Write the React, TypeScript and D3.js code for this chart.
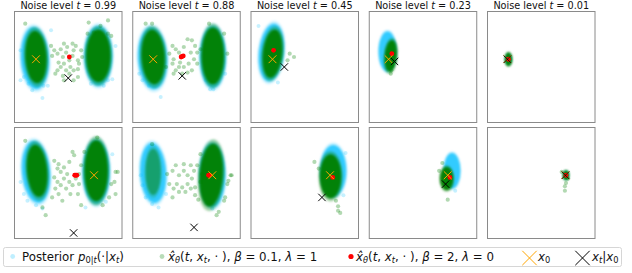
// @ts-nocheck
import * as d3 from 'd3';
import { useEffect, useRef } from 'react';

const noiseLevels = [0.99, 0.88, 0.45, 0.23, 0.01];

// Everything below is in frame units: x and y run 0..1 across a panel, y downwards.
// Panel index = row * 5 + column.

// dense part of the posterior samples: [panel, cx, cy, rx, ry, rotation]
const posteriorClouds = [
  [0, 0.19, 0.42, 0.135, 0.29, -3],
  [0, 0.78, 0.4, 0.135, 0.28, 0],
  [1, 0.185, 0.42, 0.14, 0.29, -3],
  [1, 0.745, 0.41, 0.125, 0.29, 0],
  [2, 0.19, 0.37, 0.12, 0.27, 6],
  [3, 0.17, 0.36, 0.085, 0.185, 0],
  [4, 0.195, 0.43, 0.03, 0.05, 0],
  [5, 0.2, 0.4, 0.135, 0.29, -5],
  [5, 0.76, 0.4, 0.13, 0.3, 0],
  [6, 0.19, 0.41, 0.125, 0.28, -3],
  [6, 0.74, 0.43, 0.125, 0.3, 0],
  [7, 0.765, 0.39, 0.125, 0.24, 0],
  [8, 0.77, 0.39, 0.08, 0.165, 0],
  [9, 0.73, 0.43, 0.025, 0.04, 0],
];

// dense part of the beta = 0.1 samples: [panel, cx, cy, rx, ry, rotation, density]
const betaClouds = [
  [0, 0.2, 0.41, 0.105, 0.25, -3, 1],
  [0, 0.78, 0.4, 0.12, 0.25, 0, 1],
  [1, 0.19, 0.41, 0.115, 0.26, -3, 1],
  [1, 0.745, 0.4, 0.11, 0.27, 0, 1],
  [2, 0.2, 0.38, 0.095, 0.23, 6, 1],
  [3, 0.2, 0.4, 0.06, 0.15, 5, 1],
  [4, 0.195, 0.43, 0.035, 0.065, 0, 1],
  [5, 0.21, 0.39, 0.1, 0.25, -5, 1],
  [5, 0.76, 0.39, 0.115, 0.29, 0, 1],
  [6, 0.19, 0.4, 0.075, 0.22, 0, 0.5],
  [6, 0.73, 0.43, 0.115, 0.3, 4, 1],
  [7, 0.74, 0.44, 0.105, 0.21, 0, 1],
  [8, 0.72, 0.46, 0.065, 0.11, 0, 1],
  [9, 0.73, 0.43, 0.03, 0.045, 0, 1],
];

// loose beta = 0.1 samples (between the modes and outliers): [panel, x, y]
const betaScatter = [
  [0, 0.34, 0.31], [0, 0.37, 0.35], [0, 0.35, 0.4], [0, 0.4, 0.38], [0, 0.43, 0.34], [0, 0.45, 0.41],
  [0, 0.48, 0.37], [0, 0.41, 0.46], [0, 0.46, 0.47], [0, 0.51, 0.44], [0, 0.54, 0.4], [0, 0.55, 0.35],
  [0, 0.57, 0.31], [0, 0.59, 0.44], [0, 0.6, 0.47], [0, 0.52, 0.5], [0, 0.48, 0.53], [0, 0.43, 0.5],
  [0, 0.38, 0.56], [0, 0.4, 0.53], [0, 0.55, 0.53], [0, 0.59, 0.52], [0, 0.62, 0.35], [0, 0.63, 0.41],
  [0, 0.54, 0.29], [0, 0.49, 0.32], [0, 0.46, 0.29], [0, 0.51, 0.56], [0, 0.45, 0.58], [0, 0.55, 0.62],
  [0, 0.59, 0.59], [0, 0.46, 0.62], [0, 0.68, 0.2], [0, 0.74, 0.19], [0, 0.87, 0.2], [0, 0.9, 0.22],
  [0, 0.1, 0.11], [0, 0.69, 0.1], [0, 0.87, 0.08], [0, 0.8, 0.13],
  [1, 0.37, 0.31], [1, 0.4, 0.34], [1, 0.34, 0.38], [1, 0.38, 0.43], [1, 0.43, 0.37], [1, 0.44, 0.46],
  [1, 0.475, 0.32], [1, 0.51, 0.25], [1, 0.55, 0.26], [1, 0.58, 0.31], [1, 0.54, 0.37], [1, 0.57, 0.43],
  [1, 0.52, 0.47], [1, 0.475, 0.5], [1, 0.43, 0.5], [1, 0.4, 0.53], [1, 0.37, 0.47], [1, 0.6, 0.37],
  [1, 0.6, 0.47], [1, 0.55, 0.53], [1, 0.51, 0.55], [1, 0.46, 0.56], [1, 0.38, 0.56], [1, 0.31, 0.5],
  [1, 0.63, 0.34], [1, 0.12, 0.11], [1, 0.18, 0.11], [1, 0.71, 0.11], [1, 0.85, 0.2], [1, 0.88, 0.38],
  [2, 0.36, 0.38], [2, 0.4, 0.41], [2, 0.34, 0.44],
  [3, 0.21, 0.49], [3, 0.205, 0.53], [3, 0.2, 0.56],
  [5, 0.37, 0.3], [5, 0.41, 0.33], [5, 0.46, 0.36], [5, 0.51, 0.31], [5, 0.54, 0.22], [5, 0.555, 0.25],
  [5, 0.4, 0.37], [5, 0.43, 0.4], [5, 0.49, 0.42], [5, 0.37, 0.45], [5, 0.4, 0.49], [5, 0.46, 0.46],
  [5, 0.51, 0.49], [5, 0.43, 0.52], [5, 0.48, 0.55], [5, 0.54, 0.52], [5, 0.57, 0.46], [5, 0.6, 0.42],
  [5, 0.62, 0.34], [5, 0.6, 0.51], [5, 0.52, 0.6], [5, 0.59, 0.6], [5, 0.62, 0.7], [5, 0.35, 0.63],
  [5, 0.41, 0.6], [5, 0.445, 0.66], [5, 0.38, 0.55], [5, 0.65, 0.22], [5, 0.96, 0.4], [5, 0.93, 0.49],
  [5, 0.9, 0.51], [5, 0.94, 0.6], [5, 0.88, 0.63], [5, 0.82, 0.7], [5, 0.1, 0.12], [5, 0.29, 0.79],
  [5, 0.26, 0.72], [5, 0.77, 0.09], [5, 0.94, 0.4],
  [6, 0.32, 0.42], [6, 0.37, 0.39], [6, 0.4, 0.34], [6, 0.43, 0.43], [6, 0.475, 0.39], [6, 0.51, 0.43],
  [6, 0.54, 0.34], [6, 0.57, 0.39], [6, 0.55, 0.46], [6, 0.51, 0.51], [6, 0.46, 0.54], [6, 0.41, 0.51],
  [6, 0.38, 0.55], [6, 0.43, 0.58], [6, 0.49, 0.58], [6, 0.54, 0.55], [6, 0.58, 0.54], [6, 0.6, 0.34],
  [6, 0.34, 0.51], [6, 0.63, 0.49], [6, 0.37, 0.63], [6, 0.475, 0.33], [6, 0.58, 0.61], [6, 0.645, 0.42],
  [6, 0.92, 0.43], [6, 0.89, 0.48], [6, 0.88, 0.51], [6, 0.86, 0.63], [6, 0.85, 0.66], [6, 0.63, 0.24],
  [6, 0.61, 0.65], [6, 0.18, 0.15], [6, 0.8, 0.76], [6, 0.78, 0.79], [6, 0.91, 0.43],
  [7, 0.59, 0.31], [7, 0.63, 0.37], [7, 0.81, 0.75], [7, 0.83, 0.77], [7, 0.81, 0.71], [7, 0.79, 0.66],
  [8, 0.73, 0.65], [8, 0.68, 0.32], [8, 0.65, 0.39],
  [9, 0.73, 0.5], [9, 0.72, 0.53], [9, 0.72, 0.57], [9, 0.69, 0.4], [9, 0.75, 0.46],
];

// loose posterior samples at the cloud edges: [panel, x, y]
const posteriorScatter = [
  [0, 0.056, 0.62], [0, 0.26, 0.78], [0, 0.31, 0.67], [0, 0.087, 0.59], [0, 0.165, 0.71], [0, 0.71, 0.65],
  [0, 0.87, 0.62], [0, 0.34, 0.17], [0, 0.056, 0.35], [0, 0.13, 0.65], [0, 0.27, 0.67], [0, 0.83, 0.67],
  [0, 0.91, 0.61], [0, 0.94, 0.31],
  [1, 0.06, 0.56], [1, 0.09, 0.62], [1, 0.15, 0.67], [1, 0.68, 0.62], [1, 0.75, 0.7], [1, 0.86, 0.56],
  [1, 0.26, 0.6], [1, 0.26, 0.77], [1, 0.72, 0.7],
  [2, 0.25, 0.64], [2, 0.07, 0.13],
  [5, 0.056, 0.49], [5, 0.087, 0.6], [5, 0.12, 0.66], [5, 0.2, 0.7], [5, 0.26, 0.73], [5, 0.66, 0.72],
  [5, 0.85, 0.67], [5, 0.91, 0.24],
  [6, 0.074, 0.43], [6, 0.09, 0.52], [6, 0.12, 0.63], [6, 0.18, 0.69], [6, 0.24, 0.72], [6, 0.31, 0.6],
  [6, 0.74, 0.73],
  [7, 0.86, 0.61], [7, 0.88, 0.23],
  [8, 0.8, 0.57],
];

// beta = 2, lambda = 0 samples (they collapse onto a point): [panel, x, y]
const redPoints = [
  [0, 0.51, 0.41], [1, 0.45, 0.41], [1, 0.46, 0.405], [1, 0.47, 0.4], [2, 0.21, 0.35], [3, 0.21, 0.38],
  [4, 0.195, 0.43], [5, 0.56, 0.43], [5, 0.57, 0.43], [5, 0.58, 0.43], [6, 0.705, 0.43], [6, 0.715, 0.43],
  [7, 0.76, 0.45], [8, 0.75, 0.45], [9, 0.73, 0.43],
];

const x0Marks = [
  [0, 0.2, 0.43], [1, 0.19, 0.43], [2, 0.2, 0.43], [3, 0.18, 0.43], [4, 0.185, 0.43],
  [5, 0.74, 0.43], [6, 0.74, 0.43], [7, 0.735, 0.43], [8, 0.73, 0.43], [9, 0.725, 0.43],
];

const xtMarks = [
  [0, 0.5, 0.6], [1, 0.46, 0.58], [2, 0.31, 0.5], [3, 0.235, 0.45], [4, 0.185, 0.43],
  [5, 0.55, 0.95], [6, 0.57, 0.9], [7, 0.66, 0.63], [8, 0.71, 0.51], [9, 0.725, 0.43],
];

const POST = '#00bfff';
const GREEN = '#008000';
const FONT = 'DejaVu Sans, sans-serif';

const cross = (h) => {
  const p = d3.path();
  p.moveTo(-h, -h);
  p.lineTo(h, h);
  p.moveTo(-h, h);
  p.lineTo(h, -h);
  return p.toString();
};

// parts: [text, kind] with kind '' normal, 'i' italic, 's' subscript, 'si' italic subscript
const richText = (sel, parts, size) => {
  let shift = 0;
  parts.forEach(([txt, kind]) => {
    const sub = kind.startsWith('s');
    const target = sub ? size * 0.25 : 0;
    sel
      .append('tspan')
      .attr('dy', target - shift)
      .attr('font-style', kind.endsWith('i') ? 'italic' : 'normal')
      .attr('font-size', sub ? size * 0.7 : size)
      .text(txt);
    shift = target;
  });
};

export default function App() {
  const ref = useRef(null);

  useEffect(() => {
    const width = 632;
    const height = 273;
    const pw = 107.5;
    const ph = 111;
    const colLeft = d3.scaleLinear().domain([0, 4]).range([14.5, 487.5]);
    const rowTop = d3.scaleLinear().domain([0, 1]).range([11.5, 127.5]);

    const svg = d3.select(ref.current);
    svg.selectAll('*').remove();
    svg.attr('width', width).attr('height', height).attr('viewBox', [0, 0, width, height]);

    const defs = svg.append('defs');
    defs
      .append('filter')
      .attr('id', 'soft')
      .attr('x', '-60%')
      .attr('y', '-60%')
      .attr('width', '220%')
      .attr('height', '220%')
      .append('feGaussianBlur')
      .attr('stdDeviation', 1.3);

    const panels = d3.range(10).map((i) => {
      const col = i % 5;
      const row = Math.floor(i / 5);
      const left = colLeft(col);
      const top = rowTop(row);
      return {
        i,
        col,
        row,
        left,
        top,
        x: d3.scaleLinear().domain([0, 1]).range([left, left + pw]),
        y: d3.scaleLinear().domain([0, 1]).range([top, top + ph]),
      };
    });

    panels.forEach((p) => {
      defs
        .append('clipPath')
        .attr('id', `clip${p.i}`)
        .append('rect')
        .attr('x', p.left)
        .attr('y', p.top)
        .attr('width', pw)
        .attr('height', ph);
    });

    panels.forEach((p) => {
      const g = svg.append('g').attr('clip-path', `url(#clip${p.i})`);
      const { x, y } = p;
      const sx = x(1) - x(0);
      const sy = y(1) - y(0);

      const ellipse = (layer, d, grow, fill, opacity) =>
        layer
          .append('ellipse')
          .attr('cx', 0)
          .attr('cy', 0)
          .attr('rx', d[3] * sx * grow)
          .attr('ry', d[4] * sy * grow)
          .attr('transform', `translate(${x(d[1])},${y(d[2])}) rotate(${d[5]})`)
          .attr('fill', fill)
          .attr('fill-opacity', opacity)
          .attr('filter', 'url(#soft)');

      // posterior samples
      const post = posteriorClouds.filter((d) => d[0] === p.i);
      post.forEach((d) => ellipse(g, d, 1.06, POST, 0.22));
      post.forEach((d) => ellipse(g, d, 0.97, POST, 0.75));
      g.append('g')
        .selectAll('circle')
        .data(posteriorScatter.filter((d) => d[0] === p.i))
        .join('circle')
        .attr('cx', (d) => x(d[1]))
        .attr('cy', (d) => y(d[2]))
        .attr('r', 2)
        .attr('fill', POST)
        .attr('fill-opacity', 0.22);

      // beta = 0.1 samples
      const beta = betaClouds.filter((d) => d[0] === p.i);
      beta.forEach((d) => ellipse(g, d, 1.08, GREEN, 0.35 * d[6]));
      beta.forEach((d) => ellipse(g, d, 0.95, GREEN, 0.95 * d[6]));
      g.append('g')
        .selectAll('circle')
        .data(betaScatter.filter((d) => d[0] === p.i))
        .join('circle')
        .attr('cx', (d) => x(d[1]))
        .attr('cy', (d) => y(d[2]))
        .attr('r', 2.1)
        .attr('fill', GREEN)
        .attr('fill-opacity', 0.3);

      g.append('g')
        .selectAll('circle')
        .data(redPoints.filter((d) => d[0] === p.i))
        .join('circle')
        .attr('cx', (d) => x(d[1]))
        .attr('cy', (d) => y(d[2]))
        .attr('r', 2.4)
        .attr('fill', 'red');

      g.append('g')
        .selectAll('path')
        .data(x0Marks.filter((d) => d[0] === p.i))
        .join('path')
        .attr('d', cross(3.9))
        .attr('transform', (d) => `translate(${x(d[1])},${y(d[2])})`)
        .attr('stroke', 'orange')
        .attr('stroke-width', 1)
        .attr('fill', 'none');

      g.append('g')
        .selectAll('path')
        .data(xtMarks.filter((d) => d[0] === p.i))
        .join('path')
        .attr('d', cross(3.7))
        .attr('transform', (d) => `translate(${x(d[1])},${y(d[2])})`)
        .attr('stroke', 'black')
        .attr('stroke-width', 1)
        .attr('fill', 'none');

      svg
        .append('rect')
        .attr('x', p.left)
        .attr('y', p.top)
        .attr('width', pw)
        .attr('height', ph)
        .attr('fill', 'none')
        .attr('stroke', '#8a8a8a')
        .attr('stroke-width', 1);

      if (p.row === 0) {
        const title = svg
          .append('text')
          .attr('x', p.left + pw / 2)
          .attr('y', 9.2)
          .attr('text-anchor', 'middle')
          .attr('font-family', FONT)
          .attr('font-size', 9.7)
          .attr('fill', '#111')
          .style('white-space', 'pre');
        richText(title, [['Noise level ', ''], ['t', 'i'], [` = ${noiseLevels[p.col]}`, '']], 9.7);
      }
    });

    // legend
    const lg = svg.append('g');
    lg.append('rect')
      .attr('x', 3.5)
      .attr('y', 247.5)
      .attr('width', 618)
      .attr('height', 19)
      .attr('rx', 2)
      .attr('fill', 'white')
      .attr('stroke', '#d6d6d6')
      .attr('stroke-width', 1);

    const ly = 256.5;
    const lsize = 11.8;
    const item = (tx, parts) => {
      const t = lg
        .append('text')
        .attr('x', tx)
        .attr('y', ly + 4)
        .attr('font-family', FONT)
        .attr('font-size', lsize)
        .attr('fill', '#111')
        .style('white-space', 'pre');
      richText(t, parts, lsize);
    };

    lg.append('circle').attr('cx', 12.7).attr('cy', ly).attr('r', 2.4).attr('fill', POST).attr('fill-opacity', 0.25);
    item(22, [['Posterior ', ''], ['p', 'i'], ['0|', 's'], ['t', 'si'], ['(·|', ''], ['x', 'i'], ['t', 'si'], [')', '']]);

    lg.append('circle').attr('cx', 162).attr('cy', ly).attr('r', 2.4).attr('fill', GREEN).attr('fill-opacity', 0.28);
    item(168, [
      ['x\u0302', 'i'], ['θ', 'si'], ['(', ''], ['t', 'i'], [', ', ''], ['x', 'i'], ['t', 'si'], [', · ), ', ''],
      ['β', 'i'], [' = 0.1, ', ''], ['λ', 'i'], [' = 1', ''],
    ]);

    lg.append('circle').attr('cx', 351).attr('cy', ly).attr('r', 2.6).attr('fill', 'red');
    item(356, [
      ['x\u0302', 'i'], ['θ', 'si'], ['(', ''], ['t', 'i'], [', ', ''], ['x', 'i'], ['t', 'si'], [', · ), ', ''],
      ['β', 'i'], [' = 2, ', ''], ['λ', 'i'], [' = 0', ''],
    ]);

    lg.append('path').attr('d', cross(7.2)).attr('transform', `translate(529.5,${ly + 1.5})`)
      .attr('stroke', 'orange').attr('stroke-width', 1).attr('fill', 'none');
    item(538, [['x', 'i'], ['0', 's']]);

    lg.append('path').attr('d', cross(7.2)).attr('transform', `translate(582.5,${ly + 1.5})`)
      .attr('stroke', 'black').attr('stroke-width', 1).attr('fill', 'none');
    item(592, [['x', 'i'], ['t', 'si'], ['|', ''], ['x', 'i'], ['0', 's']]);
  }, []);

  return <svg ref={ref} style={{ position: 'absolute', left: 0, top: 0 }} />;
}
